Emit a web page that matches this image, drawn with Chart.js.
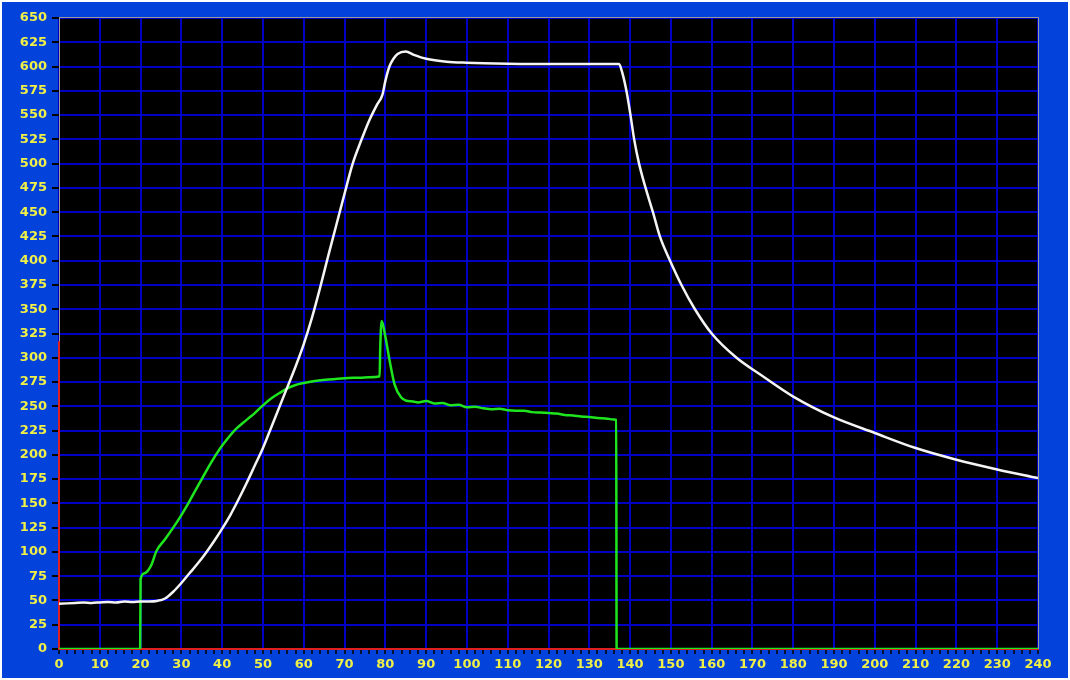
<!DOCTYPE html>
<html lang="en">
<head>
    <meta charset="UTF-8">
    <title>Temperature Curve</title>
    <script src="https://cdn.jsdelivr.net/npm/chart.js"></script>
    <style>
        body { margin: 0; background: #ffffff; }
        #wrap { width: 1070px; height: 680px; }
    </style>
</head>
<body>
    <div id="wrap">
        <canvas id="curveChart" width="1070" height="680"></canvas>
    </div>
    <script>
        // white trace (time, value)
        const whiteX = [0, 2, 4, 6, 8, 10, 12, 14, 16, 18, 20, 22, 24, 26, 28, 30, 32, 34, 36, 38, 40, 42, 44, 46, 48, 50,
            52, 54, 56, 58, 60, 62, 64, 66, 68, 70, 72, 74, 76, 78, 79.3, 80, 81, 82, 83, 85, 87, 90, 95, 100, 110, 120, 130,
            137.3, 138, 139.1, 140.1, 141, 142.2, 143.8, 145.6, 147.3, 149.8, 152.6, 155.9, 160, 166.1, 172, 180, 190, 200,
            210, 220, 230, 240];
        const whiteY = [46.5, 47, 47.5, 48, 47.5, 48, 48.5, 48, 49, 48.5, 49, 49, 49.5, 52, 59, 68, 78, 88, 99, 111, 124, 138,
            154, 171, 189, 207, 228, 249, 270, 291, 314, 341, 372, 405, 437, 469, 500, 523, 544, 561, 571, 585, 600, 608, 613,
            615.5, 612, 608, 605, 604, 603, 602.5, 602.5, 602.5, 595, 575, 550, 525, 500, 475, 450, 425, 400, 375, 350, 325,
            300, 282.5, 260, 238.5, 222.5, 207, 195, 185, 176];

        // green trace
        const greenX = [0, 19.9, 20, 21, 22, 22.7, 23.9, 26, 28, 30, 31.7, 33, 35, 37, 39.4, 41, 43, 46, 48, 50, 52, 54, 56, 58,
            60, 62, 66, 70, 74, 76, 78.6, 78.75, 79.1, 80, 81.1, 82.3, 83.9, 85, 86.8, 88, 90, 92, 94, 96, 98, 100, 102, 104,
            106, 108, 110, 112, 114, 116, 118, 120, 122, 124, 126, 128, 130, 132, 134, 136, 136.6, 136.7, 240];
        const greenY = [0, 0, 72, 78, 82, 87, 101, 113, 125, 138, 150, 160, 175, 190, 206, 215, 225, 236, 243, 251, 258,
            263.5, 268.5, 272, 274, 275.5, 277.5, 279, 279.5, 280, 281, 310, 338, 322, 296, 272, 259, 256, 255, 254, 255.5,
            253, 253.5, 251, 251.5, 249, 249.5, 248, 247, 247.5, 246, 245.5, 245.5, 244, 243.5, 243, 242.5, 241, 240.5,
            239.5, 239, 238, 237.5, 236.5, 236, 0, 0];

        // red trace (left axis marker and baseline)
        const redX = [0, 0, 240];
        const redY = [317, 0, 0];

        const xTickStep = 2;
        const xLabelStep = 10;
        const yTickStep = 25;

        const toPoints = (xs, ys) => xs.map((x, i) => ({ x: x, y: ys[i] }));

        const backdrop = {
            id: 'backdrop',
            beforeDraw(chart) {
                const c = chart.ctx;
                const a = chart.chartArea;
                c.save();
                c.fillStyle = '#ffffff';
                c.fillRect(0, 0, chart.width, chart.height);
                c.fillStyle = '#0343dc';
                c.fillRect(2, 2, chart.width - 4, chart.height - 4);
                c.fillStyle = '#000000';
                c.fillRect(a.left, a.top, a.right - a.left, a.bottom - a.top);
                c.restore();
            },
            afterDraw(chart) {
                const c = chart.ctx;
                const a = chart.chartArea;
                c.save();
                c.strokeStyle = '#9a9a9a';
                c.lineWidth = 1;
                c.beginPath();
                c.moveTo(a.left, a.top - 0.5);
                c.lineTo(a.right + 0.5, a.top - 0.5);
                c.lineTo(a.right + 0.5, a.bottom);
                c.stroke();
                c.restore();
            }
        };

        const tickFont = { family: 'DejaVu Sans', weight: 'bold', size: 13 };

        const ctx = document.getElementById('curveChart').getContext('2d');
        const chart = new Chart(ctx, {
            type: 'line',
            data: {
                datasets: [
                    {
                        label: 'white',
                        data: toPoints(whiteX, whiteY),
                        borderColor: '#f4f4f4',
                        borderWidth: 2.5,
                        pointRadius: 0,
                        cubicInterpolationMode: 'monotone',
                        order: 1
                    },
                    {
                        label: 'green',
                        data: toPoints(greenX, greenY),
                        borderColor: '#1ee61e',
                        borderWidth: 2.5,
                        pointRadius: 0,
                        cubicInterpolationMode: 'monotone',
                        order: 2
                    },
                    {
                        label: 'red',
                        data: toPoints(redX, redY),
                        borderColor: '#e02020',
                        borderWidth: 2,
                        pointRadius: 0,
                        tension: 0,
                        clip: { left: 3, top: 0, right: 0, bottom: 3 },
                        order: 3
                    }
                ]
            },
            options: {
                responsive: false,
                animation: false,
                layout: { padding: { top: 18, right: 32, left: 0, bottom: 0 } },
                plugins: {
                    legend: { display: false },
                    tooltip: { enabled: false }
                },
                scales: {
                    x: {
                        type: 'linear',
                        min: 0,
                        max: 240,
                        afterFit: (scale) => { scale.height = 31; },
                        border: { color: '#e02020', width: 2 },
                        grid: {
                            color: (c) => (c.tick && c.tick.value % xLabelStep === 0) ? '#0000c4' : 'rgba(0,0,0,0)',
                            lineWidth: 2,
                            tickColor: '#000000',
                            tickLength: 5,
                            tickWidth: 1.5
                        },
                        ticks: {
                            stepSize: xTickStep,
                            autoSkip: false,
                            maxTicksLimit: 500,
                            maxRotation: 0,
                            padding: 3,
                            color: '#f0f046',
                            font: tickFont,
                            callback: (v) => (v % xLabelStep === 0 ? String(v) : '')
                        }
                    },
                    y: {
                        min: 0,
                        max: 650,
                        afterFit: (scale) => { scale.width = 59; },
                        border: { color: '#9a9a9a', width: 1 },
                        grid: {
                            color: '#0000c4',
                            lineWidth: 2,
                            tickColor: '#000000',
                            tickLength: 7,
                            tickWidth: 2
                        },
                        ticks: {
                            stepSize: yTickStep,
                            autoSkip: false,
                            maxTicksLimit: 100,
                            padding: 5,
                            color: '#f0f046',
                            font: tickFont
                        }
                    }
                }
            },
            plugins: [backdrop]
        });
    </script>
</body>
</html>
